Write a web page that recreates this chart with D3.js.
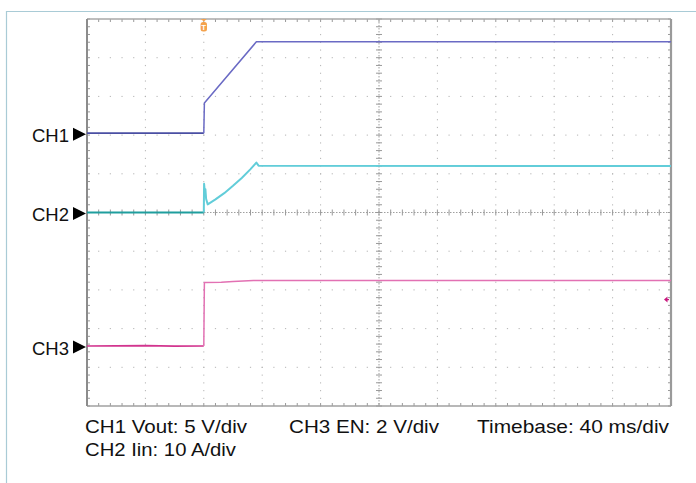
<!DOCTYPE html>
<html>
<head>
<meta charset="utf-8">
<script src="https://cdn.jsdelivr.net/npm/d3@7/dist/d3.min.js"></script>
<style>
  html, body { margin: 0; padding: 0; background: #fff; }
  svg { display: block; font-family: Arial, "Liberation Sans", Helvetica, sans-serif; }
</style>
</head>
<body>
<svg id="chart" width="696" height="483"></svg>
<script>
// ---- Data (time in ms relative to trigger, 40 ms/div) ----
const timeDomain = [-80, 320];
const divRange = [-5, 5];
const centerTime = 120;

// CH1 Vout (V), 5 V/div, ground at +2.05 div
const ch1Time = [-80, 0, 0.4, 36, 320];
const ch1Vout = [0, 0, 3.9, 11.8, 11.8];

// CH2 Iin (A), 10 A/div, ground at 0 div
const ch2Time = [-80, 0, 0.2, 0.7, 1.1, 1.6, 2.7, 8, 14, 20, 26, 32, 36, 37.5, 320];
const ch2Iin  = [0, 0, 7.4, 5.2, 6.0, 3.5, 2.1, 3.4, 5.0, 6.9, 8.9, 11.2, 12.9, 12.1, 12.0];

// CH3 EN (V), 2 V/div, ground at -3.45 div
const ch3Time = [-80, -40, -20, 0, 0.4, 12, 20, 34, 320];
const ch3EN   = [0, 0.02, -0.01, 0, 3.28, 3.29, 3.33, 3.38, 3.38];

const channelNames = ["CH1", "CH2", "CH3"];
const channelOffsets = [2.05, 0, -3.45];    // divisions
const channelScales = [5, 10, 2];           // units per div
const channelColors = ["#6a6ac4", "#62cdd9", "#e271b3"];
const channelBaseColors = ["#4a4fa3", "#1f9e9e", "#d2358f"];
const triggerLevelCH3 = 2.4;                 // V

const footerLine1 = ["CH1 Vout: 5 V/div", "CH3 EN: 2 V/div", "Timebase: 40 ms/div"];
const footerLine2 = ["CH2 Iin: 10 A/div"];

// ---- Layout ----
const svg = d3.select("#chart");
const L = 87, R = 671, T = 19, B = 406;
const x = d3.scaleLinear().domain(timeDomain).range([L, R]);
const y = d3.scaleLinear().domain(divRange).range([B, T]);

// outer frame
svg.append("line").attr("x1", 6).attr("x2", 696).attr("y1", 11.5).attr("y2", 11.5)
  .attr("stroke", "#a9cbd6").attr("stroke-width", 1.2);
svg.append("line").attr("x1", 6.5).attr("x2", 6.5).attr("y1", 11).attr("y2", 483)
  .attr("stroke", "#a9cbd6").attr("stroke-width", 1.2);

const majorX = d3.range(timeDomain[0], timeDomain[1] + 0.1, 40);
const minorX = d3.range(timeDomain[0], timeDomain[1] + 0.1, 8);
const majorY = d3.range(divRange[0], divRange[1] + 0.01, 1);
const minorY = d3.range(divRange[0], divRange[1] + 0.01, 0.2);

const grid = svg.append("g");
// dotted grid: dots at every (major, minor) intersection
majorX.slice(1, -1).forEach(t => {
  if (t === centerTime) return;
  minorY.forEach(d => {
    grid.append("rect").attr("x", x(t) - 0.5).attr("y", y(d) - 0.5).attr("width", 1).attr("height", 1.2).attr("fill", "#b4b4b4");
  });
});
majorY.slice(1, -1).forEach(d => {
  if (d === 0) return;
  minorX.forEach(t => {
    grid.append("rect").attr("x", x(t) - 0.6).attr("y", y(d) - 0.5).attr("width", 1.2).attr("height", 1).attr("fill", "#b4b4b4");
  });
});

// center cross
const cx = x(centerTime), cy = y(0);
grid.append("line").attr("x1", L).attr("x2", R).attr("y1", cy).attr("y2", cy)
  .attr("stroke", "#a0a0a0").attr("stroke-width", 1).attr("stroke-dasharray", "1.5,1.5");
grid.append("line").attr("x1", cx).attr("x2", cx).attr("y1", T).attr("y2", B)
  .attr("stroke", "#a0a0a0").attr("stroke-width", 1).attr("stroke-dasharray", "1.5,1.5");
minorX.forEach(t => {
  grid.append("line").attr("x1", x(t)).attr("x2", x(t)).attr("y1", cy - 3).attr("y2", cy + 3)
    .attr("stroke", "#999").attr("stroke-width", 1);
  grid.append("line").attr("x1", x(t)).attr("x2", x(t)).attr("y1", T).attr("y2", T + 3)
    .attr("stroke", "#999").attr("stroke-width", 1);
  grid.append("line").attr("x1", x(t)).attr("x2", x(t)).attr("y1", B - 3).attr("y2", B)
    .attr("stroke", "#999").attr("stroke-width", 1);
});
minorY.forEach(d => {
  grid.append("line").attr("x1", cx - 3).attr("x2", cx + 3).attr("y1", y(d)).attr("y2", y(d))
    .attr("stroke", "#999").attr("stroke-width", 1);
  grid.append("line").attr("x1", L).attr("x2", L + 3).attr("y1", y(d)).attr("y2", y(d))
    .attr("stroke", "#999").attr("stroke-width", 1);
  grid.append("line").attr("x1", R - 3).attr("x2", R).attr("y1", y(d)).attr("y2", y(d))
    .attr("stroke", "#999").attr("stroke-width", 1);
});

// plot border
svg.append("line").attr("x1", L).attr("x2", R).attr("y1", T).attr("y2", T).attr("stroke", "#a8a8a8").attr("stroke-width", 1.5);
svg.append("line").attr("x1", L).attr("x2", R).attr("y1", B).attr("y2", B).attr("stroke", "#a0a0a0").attr("stroke-width", 1.5);
svg.append("line").attr("x1", L).attr("x2", L).attr("y1", T).attr("y2", B).attr("stroke", "#8c8c8c").attr("stroke-width", 2);
svg.append("line").attr("x1", R).attr("x2", R).attr("y1", T).attr("y2", B).attr("stroke", "#9a9a9a").attr("stroke-width", 2.2);

// ---- Traces ----
const chTimes = [ch1Time, ch2Time, ch3Time];
const chVals = [ch1Vout, ch2Iin, ch3EN];
const traces = svg.append("g");
chTimes.forEach((times, i) => {
  const pts = times.map((t, k) => [t, chVals[i][k]]);
  const line = d3.line()
    .x(p => x(p[0]))
    .y(p => y(channelOffsets[i] + p[1] / channelScales[i]));
  const pre = pts.filter(p => p[0] <= 0);
  const post = pts.filter(p => p[0] >= 0);
  traces.append("path").attr("d", line(pre)).attr("fill", "none")
    .attr("stroke", channelBaseColors[i]).attr("stroke-width", i === 1 ? 2 : 1.7);
  traces.append("path").attr("d", line(post)).attr("fill", "none")
    .attr("stroke", channelColors[i]).attr("stroke-width", i === 1 ? 2 : 1.5)
    .attr("stroke-linejoin", "round");
});

// ---- Channel markers ----
channelNames.forEach((name, i) => {
  const yc = y(channelOffsets[i]);
  svg.append("text").attr("x", 69).attr("y", yc + 8.5).attr("text-anchor", "end")
    .attr("font-size", 18.5).attr("fill", "#111").text(name);
  svg.append("path")
    .attr("d", `M73,${yc - 5.5} L86,${yc + 1} L73,${yc + 7.5} Z`)
    .attr("fill", "#000");
});

// trigger position marker (T)
const tx = x(0);
svg.append("path").attr("d", `M${tx - 3},${T} L${tx + 3},${T} L${tx},${T + 2.5} Z`).attr("fill", "#f4a24c");
svg.append("rect").attr("x", tx - 3.2).attr("y", T + 3).attr("width", 6.4).attr("height", 9.5).attr("rx", 2.5)
  .attr("fill", "#f4a24c");
svg.append("text").attr("x", tx).attr("y", T + 11).attr("text-anchor", "middle")
  .attr("font-size", 8).attr("font-weight", "bold").attr("fill", "#fff").text("T");

// trigger level marker (CH3)
const ty = y(channelOffsets[2] + triggerLevelCH3 / channelScales[2]);
svg.append("path").attr("d", `M${R - 7},${ty} L${R - 3.5},${ty - 3} L${R - 3.5},${ty + 3} Z`).attr("fill", "#c8177e");
svg.append("line").attr("x1", R - 4).attr("x2", R - 2).attr("y1", ty).attr("y2", ty).attr("stroke", "#c8177e").attr("stroke-width", 1.2);

// ---- Footer ----
const f1x = [85, 289, 477];
const f1w = [162, 150, 192];
footerLine1.forEach((s, i) => {
  svg.append("text").attr("x", f1x[i]).attr("y", 433).attr("font-size", 18.5).attr("fill", "#111")
    .attr("textLength", f1w[i]).attr("lengthAdjust", "spacingAndGlyphs").text(s);
});
footerLine2.forEach(s => {
  svg.append("text").attr("x", 85).attr("y", 456).attr("font-size", 18.5).attr("fill", "#111")
    .attr("textLength", 151).attr("lengthAdjust", "spacingAndGlyphs").text(s);
});
</script>
</body>
</html>
